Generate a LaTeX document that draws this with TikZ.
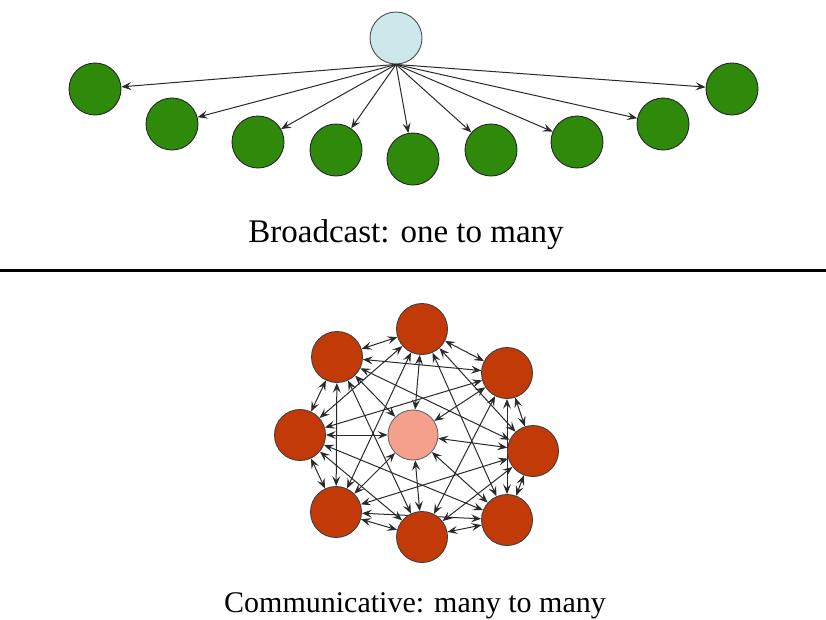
\documentclass[tikz,border=0pt]{standalone}
\usepackage{fontspec}
\setmainfont{Liberation Serif}
\usetikzlibrary{arrows.meta,backgrounds}
\definecolor{hubblue}{HTML}{CDE8EA}
\definecolor{leafgreen}{HTML}{2F8A0C}
\definecolor{peerred}{HTML}{C23A08}
\definecolor{corepink}{HTML}{F4A08C}
\definecolor{edgegray}{HTML}{2A2A2A}
\begin{document}
\begin{tikzpicture}[x=1pt,y=-1pt,
  >={Stealth[length=10pt,width=8pt,inset=4pt]},
  hubnode/.style={circle,draw=black!70,line width=0.9pt,fill=hubblue,minimum size=52pt,inner sep=0pt},
  leafnode/.style={circle,draw=black!85,line width=0.9pt,fill=leafgreen,minimum size=52pt,inner sep=0pt},
  peernode/.style={circle,draw=black!75,line width=0.9pt,fill=peerred,minimum size=51pt,inner sep=0pt},
  corenode/.style={circle,draw=black!60,line width=0.9pt,fill=corepink,minimum size=50pt,inner sep=0pt},
  conn/.style={draw=edgegray,line width=1pt},
  caption/.style={inner sep=0pt,anchor=base}]
\useasboundingbox (0,0) rectangle (826,619);
% broadcast
\node[hubnode] (hub) at (396,38) {};
\node[leafnode] (g1) at (95,89) {};
\node[leafnode] (g2) at (172,124) {};
\node[leafnode] (g3) at (258,142) {};
\node[leafnode] (g4) at (336,150) {};
\node[leafnode] (g5) at (413,159) {};
\node[leafnode] (g6) at (491,150) {};
\node[leafnode] (g7) at (577,142) {};
\node[leafnode] (g8) at (663,124) {};
\node[leafnode] (g9) at (732,89) {};
\foreach \g in {g1,g2,g3,g4,g5,g6,g7,g8,g9}
  \draw[conn,->] (hub.south) -- (\g);
\node[caption] (cap1) at (406,242) {\fontsize{33}{36}\selectfont Broadcast: one to many};
% separator
\coordinate (sepL) at (0,270);
\coordinate (sepR) at (826,270);
\draw[line width=3pt] (sepL) -- (sepR);
% many to many
\node[corenode] (C) at (413,435) {};
\node[peernode] (T) at (422,329) {};
\node[peernode] (UR) at (507,373) {};
\node[peernode] (R) at (533,451) {};
\node[peernode] (LR) at (507,520) {};
\node[peernode] (B) at (422,537) {};
\node[peernode] (LL) at (336,512) {};
\node[peernode] (L) at (300,435) {};
\node[peernode] (UL) at (337,357) {};
\begin{pgfonlayer}{background}
\foreach \a/\b in {T/UR,T/R,T/LR,T/LL,T/L,T/UL,
                   UR/R,UR/LR,UR/B,UR/L,UR/UL,
                   R/LR,R/B,R/LL,R/UL,
                   LR/B,LR/LL,LR/L,
                   B/LL,B/L,B/UL,
                   LL/L,LL/UL,
                   L/UL,
                   T/C,UR/C,R/C,LR/C,B/C,LL/C,L/C,UL/C}
  \draw[conn,<->] (\a) -- (\b);
\end{pgfonlayer}
\node[caption] (cap2) at (415,612) {\fontsize{30}{33}\selectfont Communicative: many to many};
\end{tikzpicture}
\end{document}
